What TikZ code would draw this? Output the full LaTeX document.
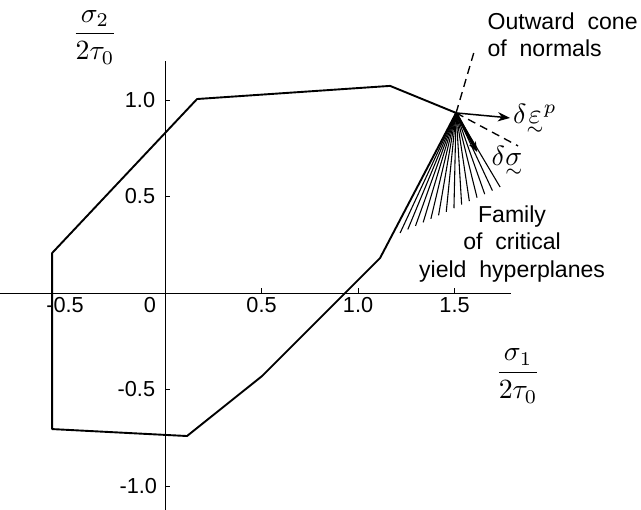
\documentclass[tikz,border=0pt]{standalone}
\usepackage{amsmath}
\usepackage{fontspec}
\setmainfont{Liberation Sans}
\usetikzlibrary{arrows.meta,calc}
% vector under-tilde
\newcommand\utl[1]{\mathord{\vtop{\offinterlineskip
  \halign{\hfil$##$\hfil\cr#1\cr\noalign{\kern1.3pt}\scriptstyle\sim\cr}}}}

\begin{document}
\begin{tikzpicture}[x=5cm,y=5cm,
      >={Stealth[length=3.2mm,width=2.4mm]},
      ax/.style={draw=black,line width=0.7pt},
      yl/.style={draw=black,line width=1.4pt,line join=round},
      fan/.style={draw=black,line width=0.8pt},
      cn/.style={draw=black,line width=1pt,dash pattern=on 6pt off 4pt},
      lab/.style={inner sep=0pt,font=\fontsize{16}{19}\selectfont},
      note/.style={inner sep=0pt,font=\fontsize{17}{20}\selectfont},
      sym/.style={inner sep=0pt,scale=2.05}
    ]
    \useasboundingbox (-0.855,-1.124) rectangle (2.466,1.518);
    % axes
    \coordinate (XL) at (-0.855,0);
    \coordinate (XR) at (1.79,0);
    \coordinate (YB) at (0,-1.124);
    \coordinate (YT) at (0,1.2);
    \draw[ax] (XL) -- (XR);
    \draw[ax] (YB) -- (YT);
    \foreach \x in {0.5,1.0,1.5}
      \draw[ax] (\x,0) -- (\x,0.025);
    \foreach \y in {-1.0,-0.5,0.5,1.0}
      \draw[ax] (0,\y) -- (0.025,\y);
    \node[lab,anchor=north] (XM) at (-0.518,-0.02) {-0.5};
    \node[lab,anchor=north] (XO) at (-0.078,-0.02) {0};
    \node[lab,anchor=north] (XA) at (0.5,-0.02) {0.5};
    \node[lab,anchor=north] (XB) at (1.0,-0.02) {1.0};
    \node[lab,anchor=north] (XC) at (1.5,-0.02) {1.5};
    \node[lab,anchor=east] (YA) at (-0.05,1.0) {1.0};
    \node[lab,anchor=east] (YB) at (-0.05,0.5) {0.5};
    \node[lab,anchor=east] (YC) at (-0.05,-0.5) {-0.5};
    \node[lab,anchor=east] (YD) at (-0.04,-1.0) {-1.0};
    \node[sym] (S2) at (-0.363,1.326) {$\dfrac{\sigma_2}{2\tau_0}$};
    \node[sym] (S1) at (1.829,-0.430) {$\dfrac{\sigma_1}{2\tau_0}$};
    % yield polygon
    \coordinate (A) at (-0.585,0.207);
    \coordinate (B) at (0.166,1.005);
    \coordinate (C) at (1.166,1.073);
    \coordinate (V) at (1.508,0.933);
    \coordinate (D) at (1.114,0.181);
    \coordinate (E) at (0.503,-0.430);
    \coordinate (F) at (0.114,-0.741);
    \coordinate (G) at (-0.585,-0.705);
    \draw[yl] (A) -- (B) -- (C) -- (V) -- (D) -- (E) -- (F) -- (G) -- cycle;
    % critical hyperplanes
    \coordinate (F1) at (1.218,0.311);
    \coordinate (F2) at (1.736,0.549);
    \foreach \i in {0,...,13}
      \draw[fan] (V) -- ($(F1)!{\i/13}!(F2)$);
    % cone of normals
    \coordinate (N1) at (1.601,1.249);
    \coordinate (N2) at (1.829,0.762);
    \draw[cn] (V) -- (N1);
    \draw[cn] (V) -- (N2);
    \coordinate (P) at (1.788,0.907);
    \draw[->,line width=1.1pt] (V) -- (P);
    \coordinate (Q) at (1.617,0.731);
    \draw[-{Stealth[length=2.6mm,width=2mm]},line width=2pt] (V) -- (Q);
    \node[sym,anchor=west] (EP) at (1.80,0.90) {$\delta\utl{\varepsilon}^{p}$};
    \node[sym] (DS) at (1.772,0.680) {$\delta\utl{\sigma}$};
    \node[note,anchor=west,align=left] (ON) at (1.67,1.337)
      {Outward\ \ cone\\of\ \ normals};
    \node[note,align=center] (FH) at (1.798,0.254)
      {Family\\of\ \ critical\\yield\ \ hyperplanes};
  \end{tikzpicture}
\end{document}
